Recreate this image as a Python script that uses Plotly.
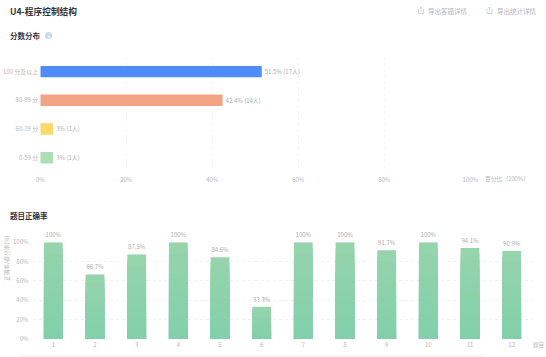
import plotly.graph_objects as go

W, H = 546, 357
FONT = "Noto Sans CJK SC"

score_bands = ["100 分及以上", "80-99 分", "60-79 分", "0-59 分"]
score_pct = [51.5, 42.4, 3, 3]
score_labels = ["51.5% (17人)", "42.4% (14人)", "3% (1人)", "3% (1人)"]
score_colors = ["#4f8cfb", "#f2a383", "#fbd96a", "#addfb5"]

questions = ["1", "2", "3", "4", "5", "6", "7", "8", "9", "10", "11", "12"]
correct_pct = [100, 66.7, 87.5, 100, 84.6, 33.3, 100, 100, 91.7, 100, 94.1, 90.9]
correct_labels = ["100%", "66.7%", "87.5%", "100%", "84.6%", "33.3%", "100%", "100%", "91.7%", "100%", "94.1%", "90.9%"]

GRAD_TOP = (150, 212, 172)
GRAD_BOT = (130, 208, 171)
BANDS = 16
TICK = "#b8b8b8"


def px(x):
    return x / W


def py(y):
    return 1 - y / H


fig = go.Figure()

fig.add_trace(go.Bar(
    y=score_bands, x=score_pct, orientation="h", width=0.4,
    marker=dict(color=score_colors, line=dict(width=0)),
    text=score_labels, textposition="outside", cliponaxis=False,
    textfont=dict(size=6, color="#adadad", family=FONT),
    xaxis="x", yaxis="y", showlegend=False,
))

# vertical gradient: overlaid bars, each one shorter and nearer the bottom colour
for k in range(BANDS):
    t = k / (BANDS - 1)
    rgb = [round(a + (b - a) * t) for a, b in zip(GRAD_TOP, GRAD_BOT)]
    fig.add_trace(go.Bar(
        x=questions,
        y=[v * (BANDS - k) / BANDS for v in correct_pct],
        width=0.45,
        marker=dict(color="rgb(%d,%d,%d)" % tuple(rgb), line=dict(width=0)),
        xaxis="x2", yaxis="y2", showlegend=False, hoverinfo="skip",
    ))

fig.add_trace(go.Scatter(
    x=questions, y=correct_pct, mode="markers+text", text=correct_labels,
    marker=dict(size=4, opacity=0),
    textposition="top center", cliponaxis=False,
    textfont=dict(size=6, color="#adadad", family=FONT),
    xaxis="x2", yaxis="y2", showlegend=False,
))

tickfont = dict(size=6, color=TICK, family=FONT)
fig.update_layout(
    width=W, height=H, margin=dict(l=0, r=0, t=0, b=0), autosize=False,
    paper_bgcolor="white", plot_bgcolor="white", barmode="overlay",
    font=dict(family=FONT),
    xaxis=dict(domain=[px(40.3), px(470.3)], range=[0, 100], anchor="y", automargin=False,
               tickvals=[0, 20, 40, 60, 80, 100], ticktext=["0%", "20%", "40%", "60%", "80%", "100%"],
               tickfont=tickfont, showgrid=True, gridcolor="#f3f3f3", griddash="dot", gridwidth=1,
               zeroline=False, showline=False, ticks="", ticklabelstandoff=3),
    yaxis=dict(domain=[py(172), py(57.3)], anchor="x", autorange="reversed", type="category", automargin=False,
               tickfont=tickfont, showgrid=False, zeroline=False, showline=False, ticks="", ticklabelstandoff=1),
    xaxis2=dict(domain=[px(32.5), px(532.5)], range=[-0.5, 11.5], anchor="y2", type="category", automargin=False,
                tickfont=tickfont, showgrid=False, zeroline=False, showline=False, ticks="", ticklabelstandoff=1),
    yaxis2=dict(domain=[py(339), py(242.3)], range=[0, 100], anchor="x2", automargin=False,
                tickvals=[0, 20, 40, 60, 80, 100], ticktext=["0%", "20%", "40%", "60%", "80%", "100%"],
                tickfont=tickfont, showgrid=True, gridcolor="#f0f0f0", griddash="dot", gridwidth=1,
                zeroline=False, showline=False, ticks="", ticklabelstandoff=3),
)


def label(x, y, s, size, color, weight=None, anchor="left", angle=0):
    txt = "<b>%s</b>" % s if weight else s
    fig.add_annotation(xref="paper", yref="paper", x=px(x), y=py(y), text=txt, showarrow=False,
                       xanchor=anchor, yanchor="middle", textangle=angle,
                       font=dict(size=size, color=color, family=FONT), borderpad=0, borderwidth=0)


label(10, 11, "U4-程序控制结构", 8.7, "#30333a", True)
label(10, 35.5, "分数分布", 7.5, "#30333a", True)
label(10, 215, "题目正确率", 7.5, "#30333a", True)
label(485, 178.3, "百分比（100%）", 5.8, TICK)
label(532.5, 345, "题目", 5.6, TICK)
label(6.3, 257.7, "正确率/得分率(%)", 5.7, TICK, anchor="center", angle=-90)
label(428, 10.7, "导出答题详情", 6.5, "#b0b4c0")
label(496.5, 10.7, "导出统计详情", 6.5, "#b0b4c0")

fig.add_shape(type="circle", xref="paper", yref="paper", x0=px(45), x1=px(52), y0=py(39), y1=py(32),
              fillcolor="#ccd6ea", line=dict(width=0))
label(48.5, 35.5, "i", 5, "white", True, anchor="center")

for cx in (421, 489.5):
    for d in (
        "M%.4f,%.4f L%.4f,%.4f L%.4f,%.4f L%.4f,%.4f" % (px(cx - 2.5), py(9), px(cx - 2.5), py(13.5), px(cx + 2.5), py(13.5), px(cx + 2.5), py(9)),
        "M%.4f,%.4f L%.4f,%.4f M%.4f,%.4f L%.4f,%.4f L%.4f,%.4f" % (px(cx), py(11), px(cx), py(7), px(cx - 1.5), py(8.5), px(cx), py(7), px(cx + 1.5), py(8.5)),
    ):
        fig.add_shape(type="path", xref="paper", yref="paper", path=d, line=dict(color="#c4cad8", width=0.8))

fig.add_shape(type="line", xref="paper", yref="paper", x0=px(20), x1=px(486), y0=py(356), y1=py(356),
              line=dict(color="#eeeeee", width=1))

fig.write_html("out.html", config=dict(displayModeBar=False),
               post_script="document.body.style.margin='0';document.documentElement.style.overflow='hidden';")
